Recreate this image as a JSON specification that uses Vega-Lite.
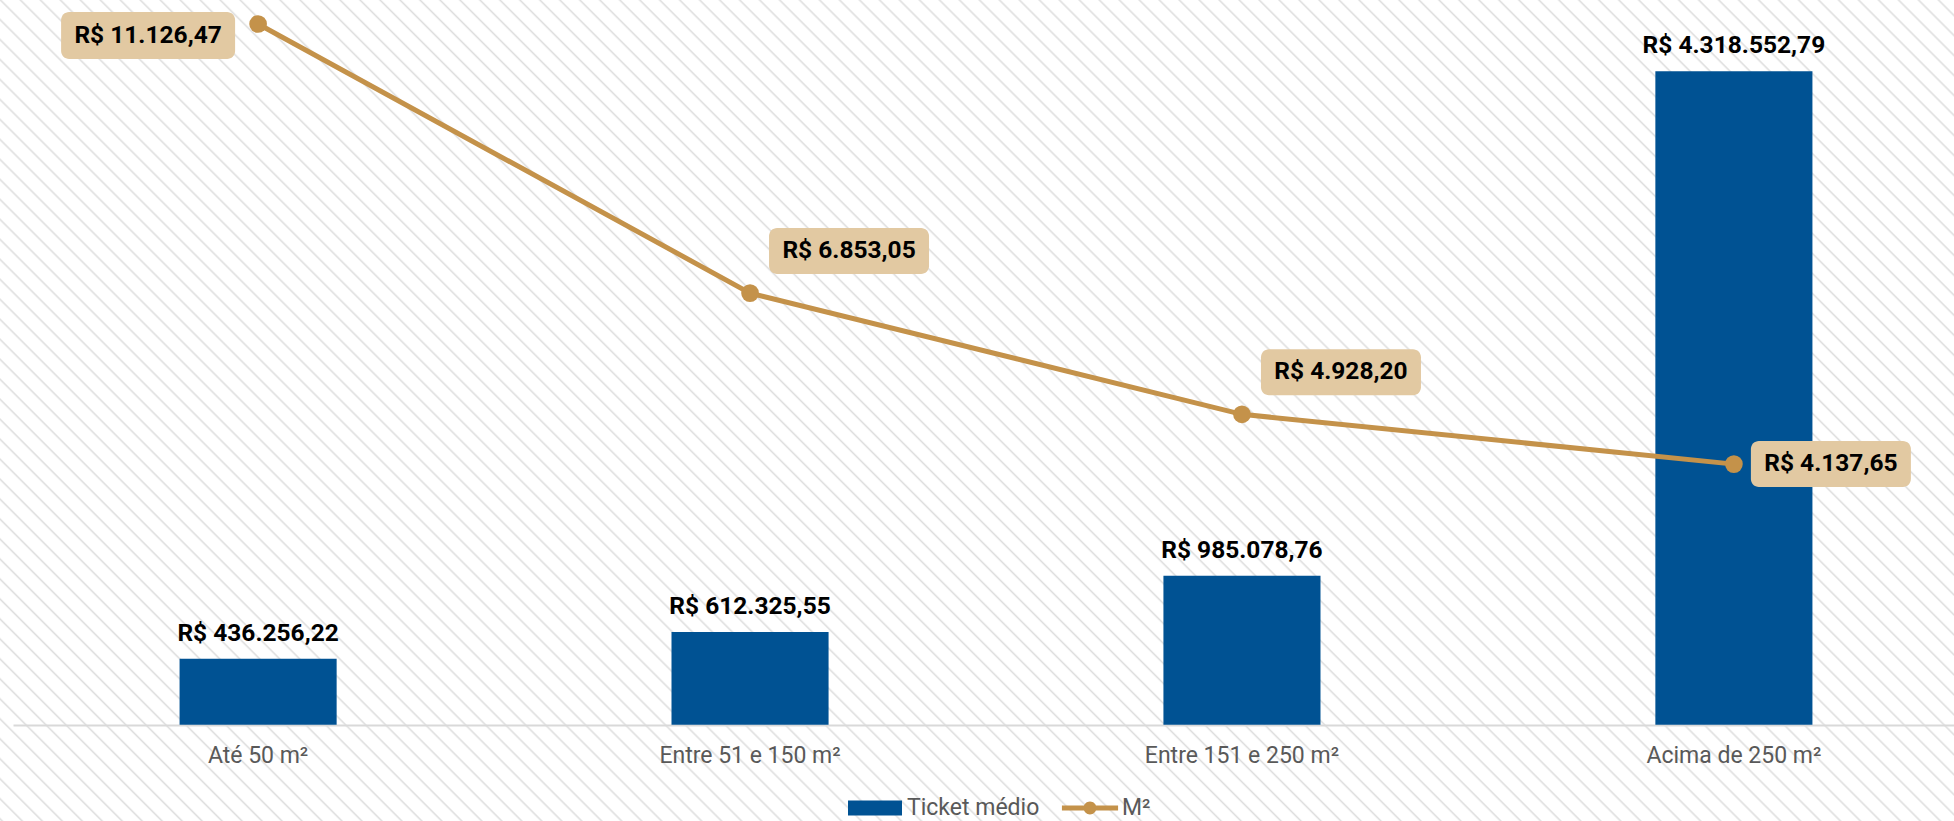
{
  "$schema": "https://vega.github.io/schema/vega-lite/v6.json",
  "width": 1954,
  "height": 821,
  "autosize": {"type": "none"},
  "padding": 0,
  "background": "#ffffff",
  "config": {
    "font": "Roboto",
    "view": {
      "stroke": null,
      "fill": {
        "gradient": "linear",
        "x1": 0, "y1": 1, "x2": 1.2071, "y2": 0.4928,
        "stops": [
{"offset":0,"color":"#fff"},{"offset":0.0008,"color":"#dedede"},{"offset":0.0016,"color":"#fff"},
{"offset":0.0072,"color":"#fff"},{"offset":0.008,"color":"#dedede"},{"offset":0.0088,"color":"#fff"},
{"offset":0.0144,"color":"#fff"},{"offset":0.0152,"color":"#dedede"},{"offset":0.016,"color":"#fff"},
{"offset":0.0216,"color":"#fff"},{"offset":0.0224,"color":"#dedede"},{"offset":0.0232,"color":"#fff"},
{"offset":0.0288,"color":"#fff"},{"offset":0.0296,"color":"#dedede"},{"offset":0.0304,"color":"#fff"},
{"offset":0.036,"color":"#fff"},{"offset":0.0368,"color":"#dedede"},{"offset":0.0376,"color":"#fff"},
{"offset":0.0432,"color":"#fff"},{"offset":0.044,"color":"#dedede"},{"offset":0.0448,"color":"#fff"},
{"offset":0.0504,"color":"#fff"},{"offset":0.0512,"color":"#dedede"},{"offset":0.052,"color":"#fff"},
{"offset":0.0576,"color":"#fff"},{"offset":0.0584,"color":"#dedede"},{"offset":0.0592,"color":"#fff"},
{"offset":0.0648,"color":"#fff"},{"offset":0.0656,"color":"#dedede"},{"offset":0.0664,"color":"#fff"},
{"offset":0.072,"color":"#fff"},{"offset":0.0728,"color":"#dedede"},{"offset":0.0736,"color":"#fff"},
{"offset":0.0792,"color":"#fff"},{"offset":0.08,"color":"#dedede"},{"offset":0.0808,"color":"#fff"},
{"offset":0.0864,"color":"#fff"},{"offset":0.0872,"color":"#dedede"},{"offset":0.088,"color":"#fff"},
{"offset":0.0936,"color":"#fff"},{"offset":0.0944,"color":"#dedede"},{"offset":0.0952,"color":"#fff"},
{"offset":0.1008,"color":"#fff"},{"offset":0.1016,"color":"#dedede"},{"offset":0.1024,"color":"#fff"},
{"offset":0.108,"color":"#fff"},{"offset":0.1088,"color":"#dedede"},{"offset":0.1096,"color":"#fff"},
{"offset":0.1152,"color":"#fff"},{"offset":0.116,"color":"#dedede"},{"offset":0.1168,"color":"#fff"},
{"offset":0.1224,"color":"#fff"},{"offset":0.1232,"color":"#dedede"},{"offset":0.124,"color":"#fff"},
{"offset":0.1296,"color":"#fff"},{"offset":0.1304,"color":"#dedede"},{"offset":0.1312,"color":"#fff"},
{"offset":0.1368,"color":"#fff"},{"offset":0.1376,"color":"#dedede"},{"offset":0.1384,"color":"#fff"},
{"offset":0.144,"color":"#fff"},{"offset":0.1448,"color":"#dedede"},{"offset":0.1456,"color":"#fff"},
{"offset":0.1512,"color":"#fff"},{"offset":0.152,"color":"#dedede"},{"offset":0.1528,"color":"#fff"},
{"offset":0.1584,"color":"#fff"},{"offset":0.1592,"color":"#dedede"},{"offset":0.16,"color":"#fff"},
{"offset":0.1656,"color":"#fff"},{"offset":0.1664,"color":"#dedede"},{"offset":0.1672,"color":"#fff"},
{"offset":0.1728,"color":"#fff"},{"offset":0.1736,"color":"#dedede"},{"offset":0.1744,"color":"#fff"},
{"offset":0.18,"color":"#fff"},{"offset":0.1808,"color":"#dedede"},{"offset":0.1816,"color":"#fff"},
{"offset":0.1872,"color":"#fff"},{"offset":0.188,"color":"#dedede"},{"offset":0.1888,"color":"#fff"},
{"offset":0.1944,"color":"#fff"},{"offset":0.1952,"color":"#dedede"},{"offset":0.196,"color":"#fff"},
{"offset":0.2016,"color":"#fff"},{"offset":0.2024,"color":"#dedede"},{"offset":0.2032,"color":"#fff"},
{"offset":0.2088,"color":"#fff"},{"offset":0.2096,"color":"#dedede"},{"offset":0.2104,"color":"#fff"},
{"offset":0.216,"color":"#fff"},{"offset":0.2168,"color":"#dedede"},{"offset":0.2176,"color":"#fff"},
{"offset":0.2232,"color":"#fff"},{"offset":0.224,"color":"#dedede"},{"offset":0.2248,"color":"#fff"},
{"offset":0.2304,"color":"#fff"},{"offset":0.2312,"color":"#dedede"},{"offset":0.232,"color":"#fff"},
{"offset":0.2376,"color":"#fff"},{"offset":0.2384,"color":"#dedede"},{"offset":0.2392,"color":"#fff"},
{"offset":0.2448,"color":"#fff"},{"offset":0.2456,"color":"#dedede"},{"offset":0.2464,"color":"#fff"},
{"offset":0.252,"color":"#fff"},{"offset":0.2528,"color":"#dedede"},{"offset":0.2536,"color":"#fff"},
{"offset":0.2592,"color":"#fff"},{"offset":0.26,"color":"#dedede"},{"offset":0.2608,"color":"#fff"},
{"offset":0.2664,"color":"#fff"},{"offset":0.2672,"color":"#dedede"},{"offset":0.268,"color":"#fff"},
{"offset":0.2736,"color":"#fff"},{"offset":0.2744,"color":"#dedede"},{"offset":0.2752,"color":"#fff"},
{"offset":0.2808,"color":"#fff"},{"offset":0.2816,"color":"#dedede"},{"offset":0.2824,"color":"#fff"},
{"offset":0.288,"color":"#fff"},{"offset":0.2888,"color":"#dedede"},{"offset":0.2896,"color":"#fff"},
{"offset":0.2952,"color":"#fff"},{"offset":0.296,"color":"#dedede"},{"offset":0.2968,"color":"#fff"},
{"offset":0.3024,"color":"#fff"},{"offset":0.3032,"color":"#dedede"},{"offset":0.304,"color":"#fff"},
{"offset":0.3096,"color":"#fff"},{"offset":0.3104,"color":"#dedede"},{"offset":0.3112,"color":"#fff"},
{"offset":0.3168,"color":"#fff"},{"offset":0.3176,"color":"#dedede"},{"offset":0.3184,"color":"#fff"},
{"offset":0.324,"color":"#fff"},{"offset":0.3248,"color":"#dedede"},{"offset":0.3256,"color":"#fff"},
{"offset":0.3312,"color":"#fff"},{"offset":0.332,"color":"#dedede"},{"offset":0.3328,"color":"#fff"},
{"offset":0.3384,"color":"#fff"},{"offset":0.3392,"color":"#dedede"},{"offset":0.34,"color":"#fff"},
{"offset":0.3456,"color":"#fff"},{"offset":0.3464,"color":"#dedede"},{"offset":0.3472,"color":"#fff"},
{"offset":0.3528,"color":"#fff"},{"offset":0.3536,"color":"#dedede"},{"offset":0.3544,"color":"#fff"},
{"offset":0.36,"color":"#fff"},{"offset":0.3608,"color":"#dedede"},{"offset":0.3616,"color":"#fff"},
{"offset":0.3672,"color":"#fff"},{"offset":0.368,"color":"#dedede"},{"offset":0.3688,"color":"#fff"},
{"offset":0.3744,"color":"#fff"},{"offset":0.3752,"color":"#dedede"},{"offset":0.376,"color":"#fff"},
{"offset":0.3816,"color":"#fff"},{"offset":0.3824,"color":"#dedede"},{"offset":0.3832,"color":"#fff"},
{"offset":0.3888,"color":"#fff"},{"offset":0.3896,"color":"#dedede"},{"offset":0.3904,"color":"#fff"},
{"offset":0.396,"color":"#fff"},{"offset":0.3968,"color":"#dedede"},{"offset":0.3976,"color":"#fff"},
{"offset":0.4032,"color":"#fff"},{"offset":0.404,"color":"#dedede"},{"offset":0.4048,"color":"#fff"},
{"offset":0.4104,"color":"#fff"},{"offset":0.4112,"color":"#dedede"},{"offset":0.412,"color":"#fff"},
{"offset":0.4176,"color":"#fff"},{"offset":0.4184,"color":"#dedede"},{"offset":0.4192,"color":"#fff"},
{"offset":0.4248,"color":"#fff"},{"offset":0.4256,"color":"#dedede"},{"offset":0.4264,"color":"#fff"},
{"offset":0.432,"color":"#fff"},{"offset":0.4328,"color":"#dedede"},{"offset":0.4336,"color":"#fff"},
{"offset":0.4392,"color":"#fff"},{"offset":0.44,"color":"#dedede"},{"offset":0.4408,"color":"#fff"},
{"offset":0.4464,"color":"#fff"},{"offset":0.4472,"color":"#dedede"},{"offset":0.448,"color":"#fff"},
{"offset":0.4536,"color":"#fff"},{"offset":0.4544,"color":"#dedede"},{"offset":0.4552,"color":"#fff"},
{"offset":0.4608,"color":"#fff"},{"offset":0.4616,"color":"#dedede"},{"offset":0.4624,"color":"#fff"},
{"offset":0.468,"color":"#fff"},{"offset":0.4688,"color":"#dedede"},{"offset":0.4696,"color":"#fff"},
{"offset":0.4752,"color":"#fff"},{"offset":0.476,"color":"#dedede"},{"offset":0.4768,"color":"#fff"},
{"offset":0.4824,"color":"#fff"},{"offset":0.4832,"color":"#dedede"},{"offset":0.484,"color":"#fff"},
{"offset":0.4896,"color":"#fff"},{"offset":0.4904,"color":"#dedede"},{"offset":0.4912,"color":"#fff"},
{"offset":0.4968,"color":"#fff"},{"offset":0.4976,"color":"#dedede"},{"offset":0.4984,"color":"#fff"},
{"offset":0.504,"color":"#fff"},{"offset":0.5048,"color":"#dedede"},{"offset":0.5056,"color":"#fff"},
{"offset":0.5112,"color":"#fff"},{"offset":0.512,"color":"#dedede"},{"offset":0.5128,"color":"#fff"},
{"offset":0.5184,"color":"#fff"},{"offset":0.5192,"color":"#dedede"},{"offset":0.52,"color":"#fff"},
{"offset":0.5256,"color":"#fff"},{"offset":0.5264,"color":"#dedede"},{"offset":0.5272,"color":"#fff"},
{"offset":0.5328,"color":"#fff"},{"offset":0.5336,"color":"#dedede"},{"offset":0.5344,"color":"#fff"},
{"offset":0.54,"color":"#fff"},{"offset":0.5408,"color":"#dedede"},{"offset":0.5416,"color":"#fff"},
{"offset":0.5472,"color":"#fff"},{"offset":0.548,"color":"#dedede"},{"offset":0.5488,"color":"#fff"},
{"offset":0.5544,"color":"#fff"},{"offset":0.5552,"color":"#dedede"},{"offset":0.556,"color":"#fff"},
{"offset":0.5616,"color":"#fff"},{"offset":0.5624,"color":"#dedede"},{"offset":0.5632,"color":"#fff"},
{"offset":0.5688,"color":"#fff"},{"offset":0.5696,"color":"#dedede"},{"offset":0.5704,"color":"#fff"},
{"offset":0.576,"color":"#fff"},{"offset":0.5768,"color":"#dedede"},{"offset":0.5776,"color":"#fff"},
{"offset":0.5832,"color":"#fff"},{"offset":0.584,"color":"#dedede"},{"offset":0.5848,"color":"#fff"},
{"offset":0.5904,"color":"#fff"},{"offset":0.5912,"color":"#dedede"},{"offset":0.592,"color":"#fff"},
{"offset":0.5976,"color":"#fff"},{"offset":0.5984,"color":"#dedede"},{"offset":0.5992,"color":"#fff"},
{"offset":0.6048,"color":"#fff"},{"offset":0.6056,"color":"#dedede"},{"offset":0.6064,"color":"#fff"},
{"offset":0.612,"color":"#fff"},{"offset":0.6128,"color":"#dedede"},{"offset":0.6136,"color":"#fff"},
{"offset":0.6192,"color":"#fff"},{"offset":0.62,"color":"#dedede"},{"offset":0.6208,"color":"#fff"},
{"offset":0.6264,"color":"#fff"},{"offset":0.6272,"color":"#dedede"},{"offset":0.628,"color":"#fff"},
{"offset":0.6336,"color":"#fff"},{"offset":0.6344,"color":"#dedede"},{"offset":0.6352,"color":"#fff"},
{"offset":0.6408,"color":"#fff"},{"offset":0.6416,"color":"#dedede"},{"offset":0.6424,"color":"#fff"},
{"offset":0.648,"color":"#fff"},{"offset":0.6488,"color":"#dedede"},{"offset":0.6496,"color":"#fff"},
{"offset":0.6552,"color":"#fff"},{"offset":0.656,"color":"#dedede"},{"offset":0.6568,"color":"#fff"},
{"offset":0.6624,"color":"#fff"},{"offset":0.6632,"color":"#dedede"},{"offset":0.664,"color":"#fff"},
{"offset":0.6696,"color":"#fff"},{"offset":0.6704,"color":"#dedede"},{"offset":0.6712,"color":"#fff"},
{"offset":0.6768,"color":"#fff"},{"offset":0.6776,"color":"#dedede"},{"offset":0.6784,"color":"#fff"},
{"offset":0.684,"color":"#fff"},{"offset":0.6848,"color":"#dedede"},{"offset":0.6856,"color":"#fff"},
{"offset":0.6912,"color":"#fff"},{"offset":0.692,"color":"#dedede"},{"offset":0.6928,"color":"#fff"},
{"offset":0.6984,"color":"#fff"},{"offset":0.6992,"color":"#dedede"},{"offset":0.7,"color":"#fff"},
{"offset":0.7056,"color":"#fff"},{"offset":0.7064,"color":"#dedede"},{"offset":0.7072,"color":"#fff"},
{"offset":0.7128,"color":"#fff"},{"offset":0.7136,"color":"#dedede"},{"offset":0.7144,"color":"#fff"},
{"offset":0.72,"color":"#fff"},{"offset":0.7208,"color":"#dedede"},{"offset":0.7216,"color":"#fff"},
{"offset":0.7272,"color":"#fff"},{"offset":0.728,"color":"#dedede"},{"offset":0.7288,"color":"#fff"},
{"offset":0.7344,"color":"#fff"},{"offset":0.7352,"color":"#dedede"},{"offset":0.736,"color":"#fff"},
{"offset":0.7416,"color":"#fff"},{"offset":0.7424,"color":"#dedede"},{"offset":0.7432,"color":"#fff"},
{"offset":0.7488,"color":"#fff"},{"offset":0.7496,"color":"#dedede"},{"offset":0.7504,"color":"#fff"},
{"offset":0.756,"color":"#fff"},{"offset":0.7568,"color":"#dedede"},{"offset":0.7576,"color":"#fff"},
{"offset":0.7632,"color":"#fff"},{"offset":0.764,"color":"#dedede"},{"offset":0.7648,"color":"#fff"},
{"offset":0.7704,"color":"#fff"},{"offset":0.7712,"color":"#dedede"},{"offset":0.772,"color":"#fff"},
{"offset":0.7776,"color":"#fff"},{"offset":0.7784,"color":"#dedede"},{"offset":0.7792,"color":"#fff"},
{"offset":0.7848,"color":"#fff"},{"offset":0.7856,"color":"#dedede"},{"offset":0.7864,"color":"#fff"},
{"offset":0.792,"color":"#fff"},{"offset":0.7928,"color":"#dedede"},{"offset":0.7936,"color":"#fff"},
{"offset":0.7992,"color":"#fff"},{"offset":0.8,"color":"#dedede"},{"offset":0.8008,"color":"#fff"},
{"offset":0.8064,"color":"#fff"},{"offset":0.8072,"color":"#dedede"},{"offset":0.808,"color":"#fff"},
{"offset":0.8136,"color":"#fff"},{"offset":0.8144,"color":"#dedede"},{"offset":0.8152,"color":"#fff"},
{"offset":0.8208,"color":"#fff"},{"offset":0.8216,"color":"#dedede"},{"offset":0.8224,"color":"#fff"},
{"offset":0.828,"color":"#fff"},{"offset":0.8288,"color":"#dedede"},{"offset":0.8296,"color":"#fff"},
{"offset":0.8352,"color":"#fff"},{"offset":0.836,"color":"#dedede"},{"offset":0.8368,"color":"#fff"},
{"offset":0.8424,"color":"#fff"},{"offset":0.8432,"color":"#dedede"},{"offset":0.844,"color":"#fff"},
{"offset":0.8496,"color":"#fff"},{"offset":0.8504,"color":"#dedede"},{"offset":0.8512,"color":"#fff"},
{"offset":0.8568,"color":"#fff"},{"offset":0.8576,"color":"#dedede"},{"offset":0.8584,"color":"#fff"},
{"offset":0.864,"color":"#fff"},{"offset":0.8648,"color":"#dedede"},{"offset":0.8656,"color":"#fff"},
{"offset":0.8712,"color":"#fff"},{"offset":0.872,"color":"#dedede"},{"offset":0.8728,"color":"#fff"},
{"offset":0.8784,"color":"#fff"},{"offset":0.8792,"color":"#dedede"},{"offset":0.88,"color":"#fff"},
{"offset":0.8856,"color":"#fff"},{"offset":0.8864,"color":"#dedede"},{"offset":0.8872,"color":"#fff"},
{"offset":0.8928,"color":"#fff"},{"offset":0.8936,"color":"#dedede"},{"offset":0.8944,"color":"#fff"},
{"offset":0.9,"color":"#fff"},{"offset":0.9008,"color":"#dedede"},{"offset":0.9016,"color":"#fff"},
{"offset":0.9072,"color":"#fff"},{"offset":0.908,"color":"#dedede"},{"offset":0.9088,"color":"#fff"},
{"offset":0.9144,"color":"#fff"},{"offset":0.9152,"color":"#dedede"},{"offset":0.916,"color":"#fff"},
{"offset":0.9216,"color":"#fff"},{"offset":0.9224,"color":"#dedede"},{"offset":0.9232,"color":"#fff"},
{"offset":0.9288,"color":"#fff"},{"offset":0.9296,"color":"#dedede"},{"offset":0.9304,"color":"#fff"},
{"offset":0.936,"color":"#fff"},{"offset":0.9368,"color":"#dedede"},{"offset":0.9376,"color":"#fff"},
{"offset":0.9432,"color":"#fff"},{"offset":0.944,"color":"#dedede"},{"offset":0.9448,"color":"#fff"},
{"offset":0.9504,"color":"#fff"},{"offset":0.9512,"color":"#dedede"},{"offset":0.952,"color":"#fff"},
{"offset":0.9576,"color":"#fff"},{"offset":0.9584,"color":"#dedede"},{"offset":0.9592,"color":"#fff"},
{"offset":0.9648,"color":"#fff"},{"offset":0.9656,"color":"#dedede"},{"offset":0.9664,"color":"#fff"},
{"offset":0.972,"color":"#fff"},{"offset":0.9728,"color":"#dedede"},{"offset":0.9736,"color":"#fff"},
{"offset":0.9792,"color":"#fff"},{"offset":0.98,"color":"#dedede"},{"offset":0.9808,"color":"#fff"},
{"offset":0.9864,"color":"#fff"},{"offset":0.9872,"color":"#dedede"},{"offset":0.988,"color":"#fff"},
{"offset":0.9936,"color":"#fff"},{"offset":0.9944,"color":"#dedede"},{"offset":0.9952,"color":"#fff"}
        ]
      }
    },
    "locale": {
      "number": {"decimal": ",", "thousands": ".", "grouping": [3], "currency": ["R$ ", ""]}
    }
  },
  "data": {
    "values": [
      {"faixa": "Até 50 m²", "ticket": 436256.22, "m2": 11126.47},
      {"faixa": "Entre 51 e 150 m²", "ticket": 612325.55, "m2": 6853.05},
      {"faixa": "Entre 151 e 250 m²", "ticket": 985078.76, "m2": 4928.20},
      {"faixa": "Acima de 250 m²", "ticket": 4318552.79, "m2": 4137.65}
    ]
  },
  "encoding": {
    "x": {
      "field": "faixa",
      "type": "nominal",
      "sort": null,
      "scale": {"range": [13, 1979], "paddingInner": 0.6807, "paddingOuter": 0.3386},
      "axis": {
        "title": null,
        "orient": "bottom",
        "offset": -96,
        "labelAngle": 0,
        "labelFontSize": 23,
        "labelColor": "#595959",
        "labelFont": "Roboto",
        "labelLimit": 0,
        "ticks": false,
        "tickSize": 0,
        "labelPadding": 19,
        "domainColor": "#d9d9d9",
        "domainWidth": 2,
        "grid": false
      }
    }
  },
  "layer": [
    {
      "encoding": {
        "y": {
          "field": "ticket",
          "type": "quantitative",
          "scale": {"domain": [-636480, 4789790], "nice": false, "zero": false},
          "axis": null
        }
      },
      "layer": [
        {
          "mark": {"type": "bar"},
          "encoding": {
            "y2": {"datum": 0},
            "fill": {
              "datum": "Ticket médio",
              "type": "nominal",
              "scale": {"range": ["#005293"]},
              "legend": {
                "title": null,
                "orient": "none",
                "legendX": 848,
                "legendY": 781,
                "direction": "horizontal",
                "padding": 0,
                "symbolSize": 2916,
                "symbolType": "M-1,-0.278H1V0.278H-1Z",
                "symbolStrokeWidth": 0,
                "symbolOpacity": 1,
                "labelFontSize": 23,
                "labelColor": "#595959",
                "labelFont": "Roboto",
                "labelOffset": 5
              }
            }
          }
        },
        {
          "mark": {"type": "text", "fontSize": 24.5, "fontWeight": "bold", "color": "#000000", "baseline": "alphabetic", "align": "center", "dy": -18},
          "encoding": {
            "text": {"field": "ticket", "type": "quantitative", "format": "$,.2f"}
          }
        }
      ]
    },
    {
      "encoding": {
        "y": {
          "field": "m2",
          "type": "quantitative",
          "scale": {"domain": [-1529.2, 11507.5], "nice": false, "zero": false},
          "axis": null
        }
      },
      "layer": [
        {
          "mark": {"type": "line", "strokeWidth": 5},
          "encoding": {
            "stroke": {
              "datum": "M²",
              "type": "nominal",
              "scale": {"range": ["#C4924A"]},
              "legend": {
                "title": null,
                "orient": "none",
                "legendX": 1063,
                "legendY": 781,
                "direction": "horizontal",
                "padding": 0,
                "symbolSize": 2916,
                "symbolType": "M-1.04,-0.09H1.04V0.09H-1.04Z M0.24,0A0.24,0.24 0 1,1 -0.24,0A0.24,0.24 0 1,1 0.24,0Z",
                "symbolFillColor": "#C4924A",
                "symbolStrokeWidth": 0,
                "symbolOpacity": 1,
                "labelFontSize": 23,
                "labelColor": "#595959",
                "labelFont": "Roboto",
                "labelOffset": 5
              }
            }
          }
        },
        {
          "mark": {"type": "circle", "size": 314, "opacity": 1, "color": "#C4924A"}
        },
        {
          "transform": [{"filter": "datum.faixa === 'Até 50 m²'"}],
          "mark": {"type": "bar", "width": 174, "xOffset": -110, "yOffset": -12, "y2Offset": 35, "cornerRadius": 8, "color": "#E2C9A2"},
          "encoding": {"y2": {"field": "m2"}}
        },
        {
          "transform": [{"filter": "datum.faixa === 'Entre 51 e 150 m²' || datum.faixa === 'Entre 151 e 250 m²'"}],
          "mark": {"type": "bar", "width": 160, "xOffset": 99, "yOffset": -65, "y2Offset": -19, "cornerRadius": 8, "color": "#E2C9A2"},
          "encoding": {"y2": {"field": "m2"}}
        },
        {
          "transform": [{"filter": "datum.faixa === 'Acima de 250 m²'"}],
          "mark": {"type": "bar", "width": 160, "xOffset": 97, "yOffset": -23, "y2Offset": 23, "cornerRadius": 8, "color": "#E2C9A2"},
          "encoding": {"y2": {"field": "m2"}}
        },
        {
          "transform": [{"filter": "datum.faixa === 'Até 50 m²'"}],
          "mark": {"type": "text", "fontSize": 24.5, "fontWeight": "bold", "color": "#000000", "baseline": "middle", "align": "center", "dx": -110, "dy": 12},
          "encoding": {"text": {"field": "m2", "type": "quantitative", "format": "$,.2f"}}
        },
        {
          "transform": [{"filter": "datum.faixa === 'Entre 51 e 150 m²' || datum.faixa === 'Entre 151 e 250 m²'"}],
          "mark": {"type": "text", "fontSize": 24.5, "fontWeight": "bold", "color": "#000000", "baseline": "middle", "align": "center", "dx": 99, "dy": -42},
          "encoding": {"text": {"field": "m2", "type": "quantitative", "format": "$,.2f"}}
        },
        {
          "transform": [{"filter": "datum.faixa === 'Acima de 250 m²'"}],
          "mark": {"type": "text", "fontSize": 24.5, "fontWeight": "bold", "color": "#000000", "baseline": "middle", "align": "center", "dx": 97, "dy": 0},
          "encoding": {"text": {"field": "m2", "type": "quantitative", "format": "$,.2f"}}
        }
      ]
    }
  ],
  "resolve": {"scale": {"y": "independent"}}
}
